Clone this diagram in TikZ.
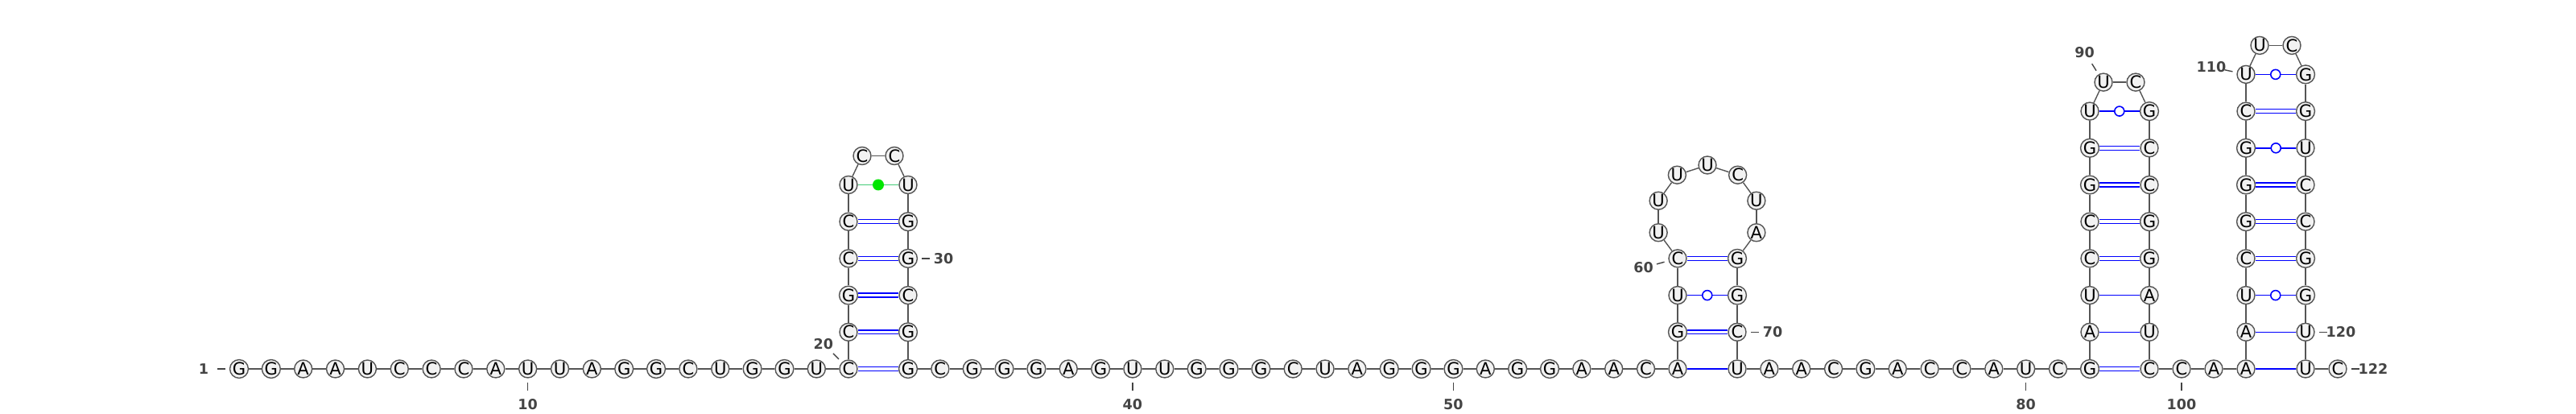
\documentclass[tikz,border=0pt]{standalone}
\usepackage{fontspec}
\setmainfont{DejaVu Sans}
\usetikzlibrary{calc}
\definecolor{ntline}{HTML}{555555}
\definecolor{ntfill}{HTML}{F2F2F2}
\definecolor{numgray}{HTML}{444444}
\definecolor{uuline}{HTML}{44CC77}
\definecolor{uudot}{HTML}{00E600}

\begin{document}
\begin{tikzpicture}[
  nt/.style={circle,draw=ntline,fill=ntfill,line width=0.4pt,minimum size=2.2mm,inner sep=0pt,font=\fontsize{6}{6}\selectfont},
  bb/.style={draw=ntline,line width=0.4pt},
  wc/.style={draw=blue,line width=0.4pt,double=white,double distance=1pt},
  au/.style={draw=blue,line width=0.45pt},
  wob/.style={circle,draw=blue,fill=white,line width=0.45pt,minimum size=1.2mm,inner sep=0pt},
  uu/.style={draw=uuline,line width=0.45pt},
  uudotn/.style={circle,fill=uudot,minimum size=1.4mm,inner sep=0pt},
  tick/.style={draw=numgray,line width=0.4pt},
  num/.style={font=\fontsize{5}{5}\selectfont\bfseries,text=numgray,inner sep=0pt}
]
  \useasboundingbox (0,0) rectangle (32,5.14);

  % tail and first hairpin
  \foreach \b [count=\i] in {G,G,A,A,U,C,C,C,A,U,U,A,G,G,C,U,G,G,U}
    \node[nt] (n\i) at ({2.97+(\i-1)*0.3985},0.56) {\b};
  \foreach \b [count=\k from 0] in {C,C,G,C,C,U} {
    \pgfmathtruncatemacro\i{20+\k}
    \node[nt] (n\i) at (10.54,{0.56+\k*0.457}) {\b};
  }
  \node[nt] (n26) at (10.71,3.205) {C};
  \node[nt] (n27) at (11.11,3.205) {C};
  \foreach \b [count=\k from 0] in {U,G,G,C,G,G} {
    \pgfmathtruncatemacro\i{28+\k}
    \node[nt] (n\i) at (11.28,{0.56+(5-\k)*0.457}) {\b};
  }
  \foreach \b [count=\i from 34] in {C,G,G,G,A,G,U,U,G,G,G,C,U,A,G,G,G,A,G,G,A,A,C}
    \node[nt] (n\i) at ({11.28+(\i-33)*0.3985},0.56) {\b};

  % second hairpin
  \foreach \b [count=\k from 0] in {A,G,U,C} {
    \pgfmathtruncatemacro\i{57+\k}
    \node[nt] (n\i) at (20.84,{0.56+\k*0.457}) {\b};
  }
  \foreach \b [count=\i from 61] in {U,U,U,U,C,U,A} {
    \pgfmathsetmacro\a{198-36*(\i-61)}
    \node[nt] (n\i) at ($(21.21,2.45)+(\a:0.64)$) {\b};
  }
  \foreach \b [count=\k from 0] in {G,G,C,U} {
    \pgfmathtruncatemacro\i{68+\k}
    \node[nt] (n\i) at (21.58,{0.56+(3-\k)*0.457}) {\b};
  }
  \foreach \b [count=\i from 72] in {A,A,C,G,A,C,C,A,U,C}
    \node[nt] (n\i) at ({21.58+(\i-71)*0.3985},0.56) {\b};

  % third hairpin
  \foreach \b [count=\k from 0] in {G,A,U,C,C,G,G,U} {
    \pgfmathtruncatemacro\i{82+\k}
    \node[nt] (n\i) at (25.96,{0.56+\k*0.457}) {\b};
  }
  \node[nt] (n90) at (26.13,4.119) {U};
  \node[nt] (n91) at (26.53,4.119) {C};
  \foreach \b [count=\k from 0] in {G,C,C,G,G,A,U,C} {
    \pgfmathtruncatemacro\i{92+\k}
    \node[nt] (n\i) at (26.70,{0.56+(7-\k)*0.457}) {\b};
  }
  \node[nt] (n100) at (27.10,0.56) {C};
  \node[nt] (n101) at (27.50,0.56) {A};

  % fourth hairpin
  \foreach \b [count=\k from 0] in {A,A,U,C,G,G,G,C,U} {
    \pgfmathtruncatemacro\i{102+\k}
    \node[nt] (n\i) at (27.90,{0.56+\k*0.457}) {\b};
  }
  \node[nt] (n111) at (28.07,4.576) {U};
  \node[nt] (n112) at (28.47,4.576) {C};
  \foreach \b [count=\k from 0] in {G,G,U,C,C,G,G,U,U} {
    \pgfmathtruncatemacro\i{113+\k}
    \node[nt] (n\i) at (28.64,{0.56+(8-\k)*0.457}) {\b};
  }
  \node[nt] (n122) at (29.04,0.56) {C};

  % backbone
  \foreach \i [evaluate=\i as \j using int(\i+1)] in {1,...,121}
    \draw[bb] (n\i) -- (n\j);

  % pairs
  \foreach \a/\b in {20/33,21/32,22/31,23/30,24/29,58/70,60/68,82/99,85/96,86/95,87/94,88/93,105/118,106/117,107/116,109/114}
    \draw[wc] (n\a) -- (n\b);
  \foreach \a/\b in {57/71,83/98,84/97,102/121,103/120}
    \draw[au] (n\a) -- (n\b);
  \foreach \a/\b in {59/69,89/92,104/119,108/115,110/113}
    \draw[au] (n\a) -- node[wob] {} (n\b);
  \draw[uu] (n25) -- node[uudotn] {} (n28);

  % numbering
  \foreach \i/\a in {1/180,10/270,20/135,30/0,40/270,50/270,60/195,70/0,80/270,90/122,100/270,110/168,120/0,122/0} {
    \path (n\i) ++(\a:0.17) coordinate (ta\i) ++(\a:0.10) coordinate (tb\i);
    \draw[tick] (ta\i) -- (tb\i);
    \node[num] (l\i) at ($(n\i)+(\a:0.44)$) {\i};
  }
\end{tikzpicture}
\end{document}
